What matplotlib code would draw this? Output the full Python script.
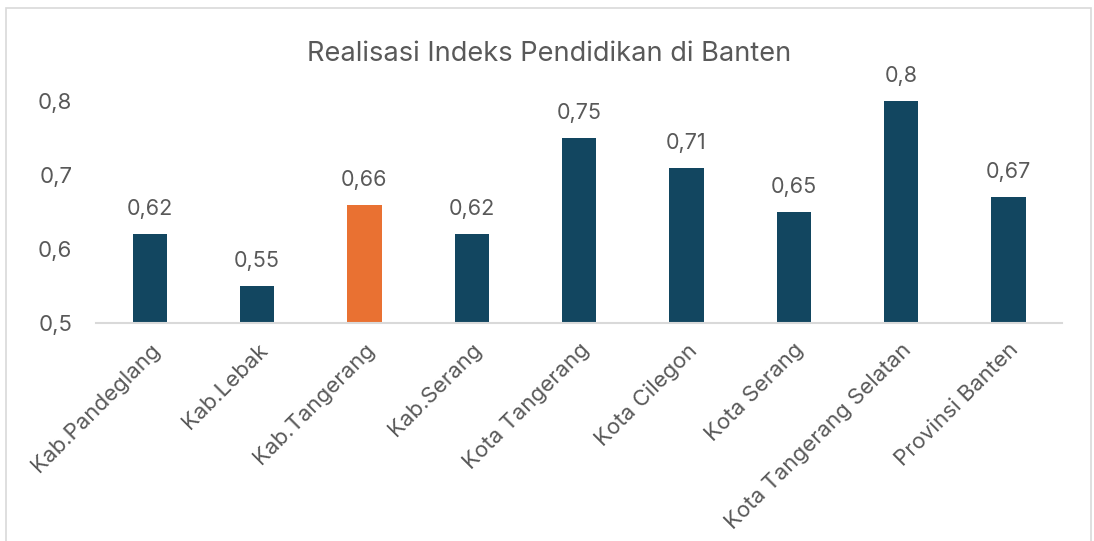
import matplotlib.pyplot as plt
from matplotlib.patches import Rectangle

categories = ["Kab.Pandeglang", "Kab.Lebak", "Kab.Tangerang", "Kab.Serang",
              "Kota Tangerang", "Kota Cilegon", "Kota Serang",
              "Kota Tangerang Selatan", "Provinsi Banten"]
values = [0.62, 0.55, 0.66, 0.62, 0.75, 0.71, 0.65, 0.80, 0.67]
highlight = "Kab.Tangerang"

plt.rcParams['font.family'] = ['Inter', 'DejaVu Sans']
grey = "#595959"
navy = "#124660"
orange = "#E97132"

fig = plt.figure(figsize=(10.94, 5.41), dpi=100)
ax = fig.add_axes([0.0878, 0.403, 0.883, 0.410])

colors = [orange if c == highlight else navy for c in categories]
x = range(len(categories))
ax.bar(x, values, width=0.32, color=colors, zorder=2)
for i, v in enumerate(values):
    ax.text(i, v + 0.02, ("%g" % v).replace(".", ","), ha="center", va="bottom",
            fontsize=15.5, color=grey)

ax.set_xlim(-0.5, len(categories) - 0.5)
ax.set_ylim(0.5, 0.8)
ax.set_yticks([0.5, 0.6, 0.7, 0.8])
ax.set_yticklabels(["0,5", "0,6", "0,7", "0,8"], fontsize=16, color=grey)
ax.set_xticks(list(x))
ax.set_xticklabels(categories, rotation=45, ha="right", va="top",
                   rotation_mode="anchor", fontsize=16, color=grey)
ax.tick_params(axis="both", length=0)
ax.tick_params(axis="y", pad=17)
ax.tick_params(axis="x", pad=12)
for s in ["top", "right", "left"]:
    ax.spines[s].set_visible(False)
ax.spines["bottom"].set_color("#D9D9D9")
ax.spines["bottom"].set_linewidth(1.5)

fig.text(0.502, 0.9, "Realisasi Indeks Pendidikan di Banten", ha="center",
         va="center", fontsize=19.6, color=grey)

fig.patches.append(Rectangle((6 / 1094, -0.05), 1085 / 1094, 1.035,
                             transform=fig.transFigure, fill=False,
                             edgecolor="#D9D9D9", linewidth=1.2))

fig.savefig("out.png", dpi=100)
